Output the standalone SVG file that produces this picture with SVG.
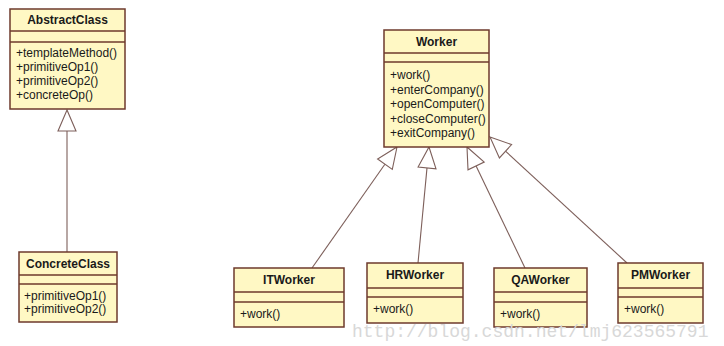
<svg xmlns="http://www.w3.org/2000/svg" width="724" height="346" viewBox="0 0 724 346">
  <style>
    .box { fill: #fff8c4; stroke: #6e3a2c; stroke-width: 1.5; }
    .sep { stroke: #6e3a2c; stroke-width: 1.5; }
    .title { font-family: "Liberation Sans", Arial, sans-serif; font-size: 12px; font-weight: bold; fill: #1a1a1a; text-anchor: middle; }
    .op { font-family: "Liberation Sans", Arial, sans-serif; font-size: 12px; fill: #1a1a1a; }
    .edge { stroke: #7d5f5a; stroke-width: 1.1; fill: none; }
    .head { stroke: #7d5f5a; stroke-width: 1.1; fill: #ffffff; }
    .mark { font-family: "Liberation Mono", "Courier New", monospace; font-size: 18px; fill: #d8d8d8; }
  </style>

  <rect width="724" height="346" fill="#ffffff"/>

  <!-- generalization connectors: line from subclass plus hollow triangle at superclass -->
  <g id="connectors">
    <line class="edge" x1="67" y1="252" x2="67" y2="131"/>
    <polygon class="head" points="67,110 58,131 76,131"/>

    <line class="edge" x1="312" y1="268" x2="384.9" y2="164.2"/>
    <polygon class="head" points="397,147 392.3,169.4 377.6,159"/>

    <line class="edge" x1="418" y1="263" x2="427" y2="167.9"/>
    <polygon class="head" points="429,147 436,168.8 418.1,167.1"/>

    <line class="edge" x1="525" y1="268" x2="476.1" y2="165.9"/>
    <polygon class="head" points="467,147 484.2,162 468,169.8"/>

    <line class="edge" x1="627" y1="263" x2="505.5" y2="151.2"/>
    <polygon class="head" points="490,137 511.6,144.6 499.4,157.9"/>
  </g>

  <g id="AbstractClass">
    <rect class="box" x="10" y="9" width="115" height="100"/>
    <line class="sep" x1="10" y1="31" x2="125" y2="31"/>
    <line class="sep" x1="10" y1="42" x2="125" y2="42"/>
    <text class="title" x="67.5" y="24">AbstractClass</text>
    <text class="op" x="16" y="57">+templateMethod()</text>
    <text class="op" x="16" y="71">+primitiveOp1()</text>
    <text class="op" x="16" y="85">+primitiveOp2()</text>
    <text class="op" x="16" y="99">+concreteOp()</text>
  </g>

  <g id="ConcreteClass">
    <rect class="box" x="19" y="252" width="98" height="70"/>
    <line class="sep" x1="19" y1="275" x2="117" y2="275"/>
    <line class="sep" x1="19" y1="284" x2="117" y2="284"/>
    <text class="title" x="68" y="268">ConcreteClass</text>
    <text class="op" x="24" y="300">+primitiveOp1()</text>
    <text class="op" x="24" y="313">+primitiveOp2()</text>
  </g>

  <g id="Worker">
    <rect class="box" x="384" y="30" width="105" height="117"/>
    <line class="sep" x1="384" y1="53" x2="489" y2="53"/>
    <line class="sep" x1="384" y1="62" x2="489" y2="62"/>
    <text class="title" x="436.5" y="46">Worker</text>
    <text class="op" x="390" y="79">+work()</text>
    <text class="op" x="390" y="93.5">+enterCompany()</text>
    <text class="op" x="390" y="108">+openComputer()</text>
    <text class="op" x="390" y="122.5">+closeComputer()</text>
    <text class="op" x="390" y="137">+exitCompany()</text>
  </g>

  <g id="ITWorker">
    <rect class="box" x="234" y="268" width="110" height="59"/>
    <line class="sep" x1="234" y1="292" x2="344" y2="292"/>
    <line class="sep" x1="234" y1="302" x2="344" y2="302"/>
    <text class="title" x="289" y="284">ITWorker</text>
    <text class="op" x="240" y="318">+work()</text>
  </g>

  <g id="HRWorker">
    <rect class="box" x="367" y="263" width="96" height="60"/>
    <line class="sep" x1="367" y1="288" x2="463" y2="288"/>
    <line class="sep" x1="367" y1="297" x2="463" y2="297"/>
    <text class="title" x="415" y="279">HRWorker</text>
    <text class="op" x="373" y="313">+work()</text>
  </g>

  <g id="QAWorker">
    <rect class="box" x="494" y="268" width="93" height="59"/>
    <line class="sep" x1="494" y1="292" x2="587" y2="292"/>
    <line class="sep" x1="494" y1="302" x2="587" y2="302"/>
    <text class="title" x="540.5" y="284">QAWorker</text>
    <text class="op" x="500" y="318">+work()</text>
  </g>

  <g id="PMWorker">
    <rect class="box" x="618" y="263" width="85" height="60"/>
    <line class="sep" x1="618" y1="288" x2="703" y2="288"/>
    <line class="sep" x1="618" y1="297" x2="703" y2="297"/>
    <text class="title" x="660.5" y="279">PMWorker</text>
    <text class="op" x="624" y="313">+work()</text>
  </g>

  <text class="mark" x="352" y="337">http://blog.csdn.net/lmj623565791</text>
</svg>
